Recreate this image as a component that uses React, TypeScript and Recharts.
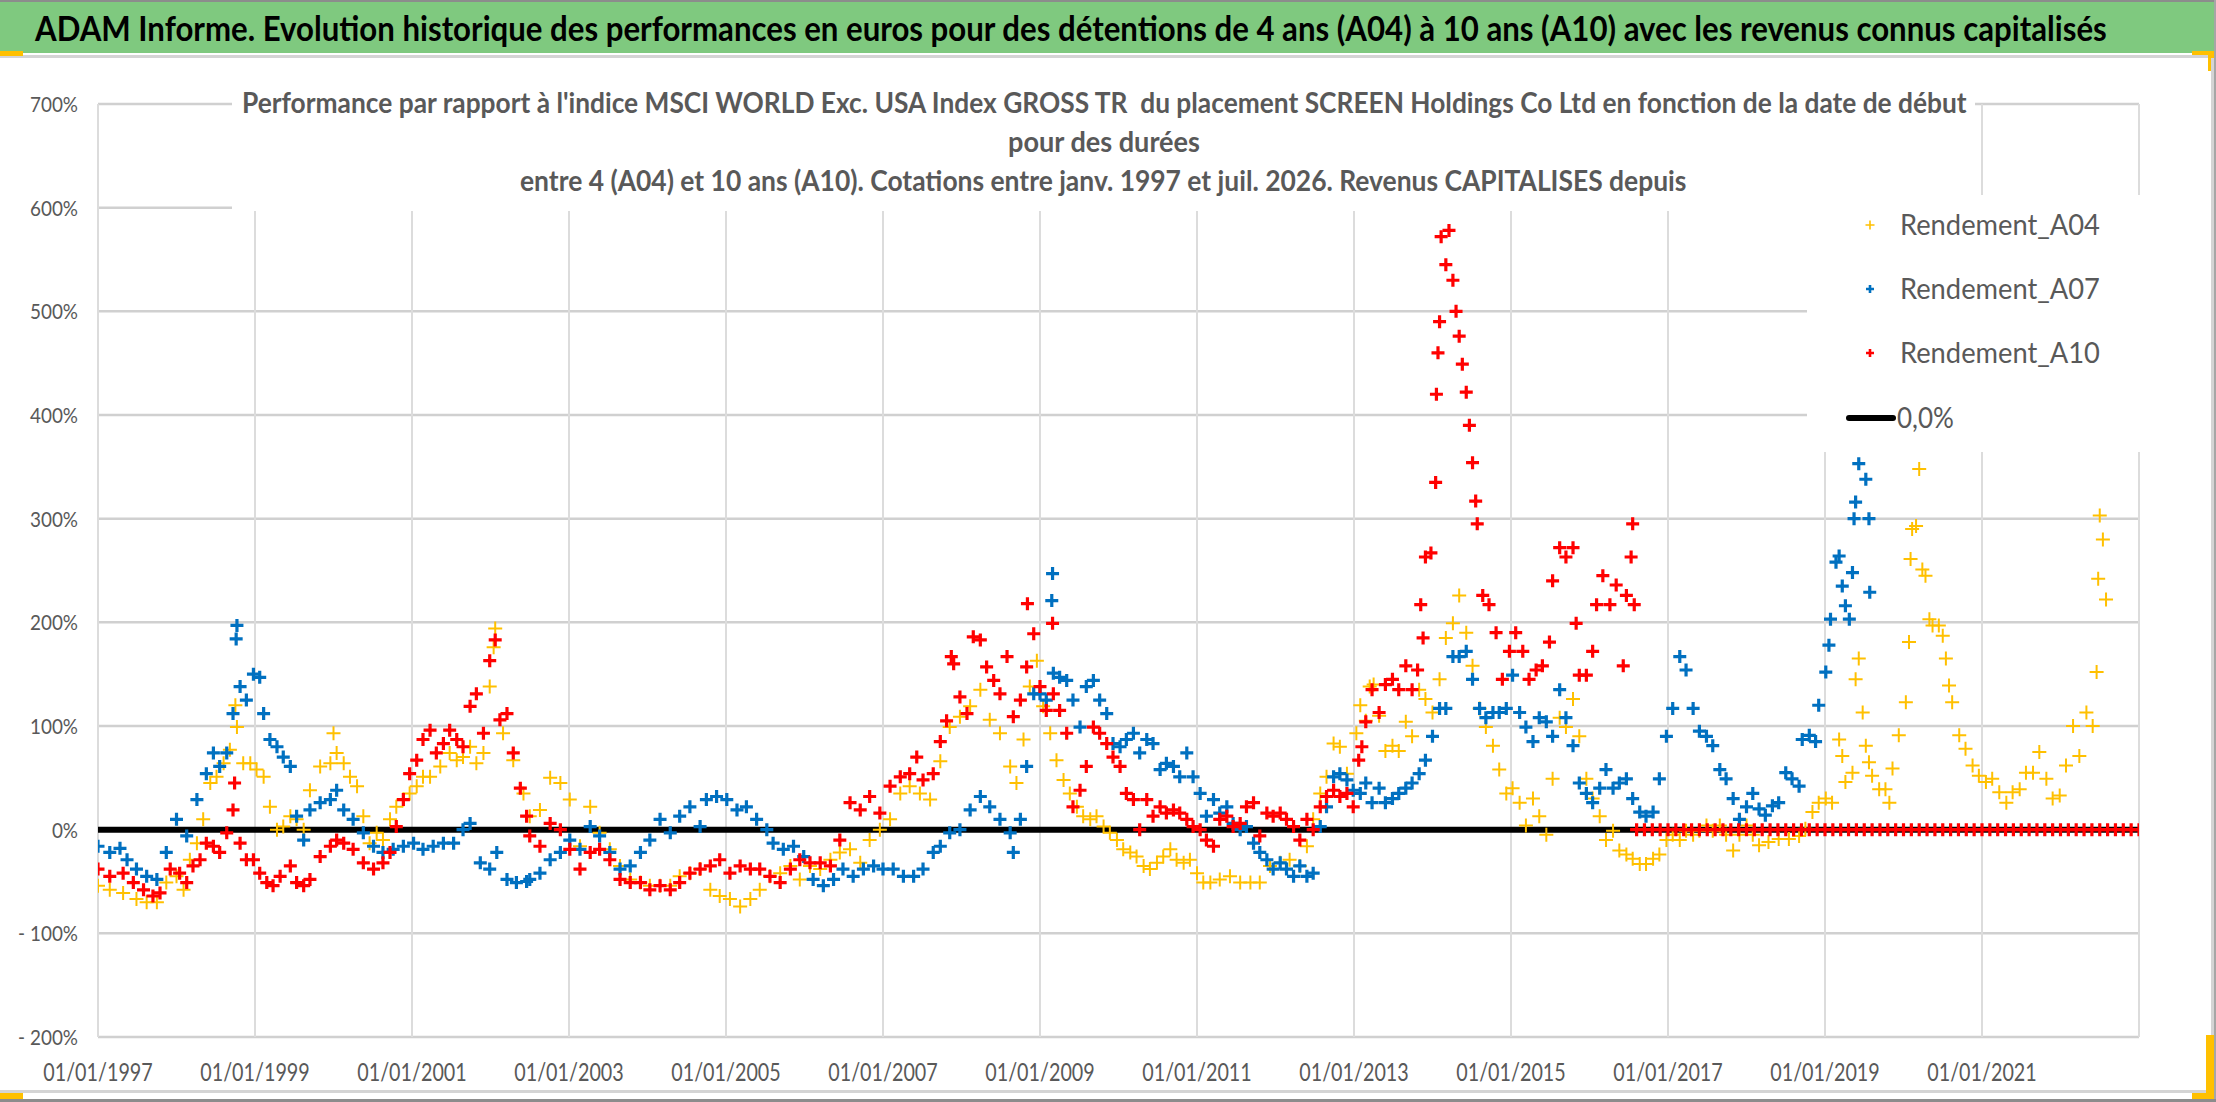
import React, { useLayoutEffect, useRef, useState } from 'react';
import { CartesianGrid, Legend, Scatter, ScatterChart, XAxis, YAxis } from 'recharts';

// t = years since 01/01/1997, v = performance in %
type Pt = [number, number];

const X_TICKS = [0, 2, 4, 6, 8, 10, 12, 14, 16, 18, 20, 22, 24];
const X_TICK_LABELS = [
  '01/01/1997', '01/01/1999', '01/01/2001', '01/01/2003', '01/01/2005', '01/01/2007', '01/01/2009',
  '01/01/2011', '01/01/2013', '01/01/2015', '01/01/2017', '01/01/2019', '01/01/2021',
];
const Y_TICKS = [-200, -100, 0, 100, 200, 300, 400, 500, 600, 700];
const Y_TICK_LABELS = ['- 200%', '- 100%', '0%', '100%', '200%', '300%', '400%', '500%', '600%', '700%'];

const A04: Pt[] = [
  [0.00, -54], [0.15, -58], [0.32, -61], [0.49, -67], [0.62, -70], [0.75, -70], [0.87, -51], [1.00, -45],
  [1.09, -58], [1.17, -29], [1.26, -13], [1.34, 10], [1.43, 45], [1.51, 51], [1.60, 64], [1.68, 77],
  [1.75, 120], [1.77, 99], [1.85, 64], [1.94, 64], [2.02, 58], [2.11, 51], [2.19, 22], [2.28, 0],
  [2.36, 3], [2.45, 13], [2.53, 10], [2.62, 0], [2.70, 38], [2.83, 61], [2.96, 64], [3.00, 93],
  [3.04, 74], [3.13, 64], [3.21, 51], [3.30, 42], [3.38, 13], [3.46, -13], [3.55, -3], [3.63, -10],
  [3.72, 10], [3.80, 22], [3.89, 29], [3.97, 35], [4.06, 42], [4.14, 51], [4.23, 51], [4.36, 61],
  [4.48, 74], [4.57, 67], [4.65, 70], [4.74, 80], [4.82, 64], [4.91, 74], [4.99, 138], [5.04, 176],
  [5.06, 194], [5.16, 93], [5.29, 67], [5.42, 35],
  [5.50, 13], [5.63, 19], [5.76, 50], [5.89, 45], [6.01, 29], [6.14, -16], [6.27, 22], [6.39, -3],
  [6.52, -19], [6.65, -35], [6.78, -48], [6.91, -51], [7.03, -54], [7.16, -54], [7.29, -54], [7.41, -45],
  [7.54, -42], [7.67, -38], [7.80, -58], [7.92, -64], [8.05, -67], [8.18, -74], [8.31, -67], [8.43, -58],
  [8.56, -45], [8.69, -42], [8.82, -35], [8.94, -48], [9.07, -35], [9.20, -38], [9.33, -29], [9.45, -22],
  [9.58, -19], [9.71, -32], [9.83, -10], [9.96, 0], [10.09, 10], [10.22, 35], [10.34, 42], [10.47, 35],
  [10.60, 29],
  [10.73, 66], [10.85, 99], [10.98, 109], [11.11, 119], [11.24, 135], [11.36, 106], [11.49, 93], [11.62, 61],
  [11.70, 45], [11.79, 87], [11.87, 138], [11.96, 163], [12.04, 119], [12.13, 93], [12.21, 67], [12.30, 48],
  [12.38, 35], [12.47, 22], [12.55, 13], [12.64, 10], [12.72, 13], [12.81, 3], [12.89, -3], [12.98, -10],
  [13.06, -19], [13.15, -22], [13.23, -26], [13.32, -35], [13.40, -38], [13.49, -32], [13.57, -26], [13.66, -19],
  [13.74, -29], [13.83, -32], [13.91, -29], [14.00, -42], [14.08, -51], [14.17, -51], [14.29, -48], [14.42, -45],
  [14.55, -51], [14.68, -51], [14.80, -51], [14.93, -35], [15.06, -32], [15.18, -29], [15.31, -35], [15.40, -16],
  [15.48, 10], [15.57, 35], [15.65, 51], [15.74, 83], [15.82, 80], [15.91, 54], [16.03, 93],
  [16.08, 120], [16.15, 105], [16.20, 138], [16.25, 140], [16.32, 110], [16.40, 76], [16.49, 81], [16.57, 76],
  [16.66, 104], [16.74, 90], [16.83, 135], [16.91, 126], [17.00, 113], [17.09, 145], [17.17, 185], [17.26, 199],
  [17.34, 226], [17.43, 190], [17.51, 158], [17.60, 117], [17.68, 99], [17.77, 81], [17.85, 58], [17.94, 35],
  [18.02, 40], [18.11, 26], [18.19, 4], [18.28, 30], [18.36, 13], [18.45, -5], [18.53, 49], [18.62, 108],
  [18.70, 99], [18.79, 126], [18.87, 90], [18.96, 49], [19.04, 30], [19.13, 13], [19.21, -10], [19.30, -1],
  [19.38, -20], [19.47, -24], [19.55, -28], [19.64, -33], [19.72, -33], [19.81, -28], [19.89, -24], [19.98, -10],
  [20.06, -5], [20.15, -10], [20.23, -1], [20.32, -5], [20.40, -1], [20.49, 4], [20.57, -1], [20.66, 4],
  [20.74, -5], [20.83, -20], [20.91, -5], [21.00, 4], [21.08, -5],
  [21.16, -15], [21.28, -12], [21.41, -9], [21.54, -9], [21.67, -6], [21.75, 1], [21.84, 17], [21.92, 26],
  [22.01, 30], [22.09, 26], [22.18, 87], [22.22, 71], [22.26, 46], [22.35, 55], [22.39, 145], [22.43, 165],
  [22.48, 113], [22.52, 81], [22.56, 65], [22.60, 52], [22.69, 39], [22.77, 39], [22.82, 26], [22.86, 59],
  [22.94, 91], [23.03, 123], [23.07, 181], [23.09, 261], [23.11, 290], [23.16, 293], [23.20, 348], [23.24, 251],
  [23.28, 245], [23.33, 203], [23.37, 197], [23.45, 197], [23.50, 187], [23.54, 165], [23.58, 139], [23.62, 123],
  [23.71, 91], [23.79, 78], [23.88, 62], [23.96, 52], [24.05, 46], [24.13, 49], [24.22, 36], [24.31, 26],
  [24.39, 36], [24.48, 39], [24.56, 55], [24.65, 55], [24.73, 75], [24.82, 49], [24.90, 30], [24.99, 33],
  [25.07, 62], [25.16, 100], [25.24, 71], [25.33, 113], [25.41, 100], [25.46, 152], [25.48, 242], [25.50, 303],
  [25.54, 280], [25.58, 222],
];

const A07: Pt[] = [
  [0.00, -16], [0.15, -22], [0.28, -18], [0.37, -29], [0.49, -38], [0.62, -45], [0.75, -48], [0.87, -22],
  [1.00, 10], [1.13, -6], [1.26, 29], [1.38, 54], [1.47, 74], [1.55, 61], [1.64, 74], [1.72, 112],
  [1.76, 184], [1.77, 197], [1.81, 138], [1.89, 125], [1.98, 150], [2.06, 147], [2.11, 112], [2.19, 87],
  [2.28, 80], [2.36, 70], [2.45, 61], [2.53, 13], [2.62, -10], [2.70, 19], [2.83, 26], [2.96, 29],
  [3.04, 38], [3.13, 19], [3.25, 10], [3.38, -3], [3.51, -16], [3.63, -22], [3.76, -19], [3.89, -16],
  [4.02, -13], [4.14, -19], [4.27, -16], [4.40, -13], [4.53, -13], [4.65, 0], [4.74, 6], [4.87, -32],
  [4.99, -38], [5.08, -22], [5.21, -48], [5.33, -51],
  [5.46, -50], [5.50, -48], [5.63, -42], [5.76, -29], [5.89, -22], [6.01, -10], [6.14, -19], [6.27, 3],
  [6.39, -6], [6.52, -22], [6.65, -38], [6.78, -35], [6.91, -22], [7.03, -10], [7.16, 10], [7.29, -3],
  [7.41, 13], [7.54, 22], [7.67, 3], [7.75, 29], [7.88, 32], [8.01, 29], [8.14, 19], [8.26, 22],
  [8.39, 10], [8.52, 0], [8.60, -13], [8.73, -19], [8.86, -16], [8.99, -26], [9.11, -48], [9.24, -54],
  [9.37, -48], [9.49, -38], [9.62, -45], [9.75, -38], [9.88, -35], [10.00, -38], [10.13, -38], [10.26, -45],
  [10.39, -45], [10.51, -38], [10.64, -22],
  [10.73, -16], [10.85, -3], [10.98, 0], [11.11, 19], [11.24, 32], [11.36, 22], [11.49, 10], [11.62, -3],
  [11.66, -22], [11.75, 10], [11.83, 61], [11.92, 131], [12.00, 131], [12.08, 125], [12.15, 221], [12.16, 247],
  [12.17, 151], [12.25, 147], [12.34, 144], [12.42, 125], [12.51, 99], [12.59, 138], [12.68, 144], [12.76, 125],
  [12.85, 112], [12.93, 83], [13.02, 80], [13.10, 87], [13.19, 93], [13.27, 74], [13.36, 87], [13.44, 83],
  [13.53, 58], [13.61, 64], [13.70, 61], [13.78, 51], [13.87, 74], [13.95, 51], [14.04, 35], [14.12, 13],
  [14.21, 29], [14.29, 16], [14.38, 22], [14.46, 6], [14.55, 0], [14.63, 3], [14.72, -13], [14.80, -22],
  [14.89, -29], [14.97, -38], [15.06, -32], [15.14, -38], [15.23, -45], [15.31, -35], [15.40, -45], [15.48, -42],
  [15.57, 3], [15.65, 22], [15.74, 51], [15.82, 54], [15.91, 48], [15.99, 38],
  [16.08, 35], [16.15, 45], [16.23, 26], [16.32, 40], [16.40, 26], [16.49, 30], [16.57, 35], [16.66, 40],
  [16.74, 45], [16.83, 54], [16.91, 67], [17.00, 90], [17.09, 117], [17.17, 117], [17.26, 167], [17.34, 167],
  [17.43, 172], [17.51, 145], [17.60, 117], [17.68, 108], [17.77, 113], [17.85, 113], [17.94, 117], [18.02, 149],
  [18.11, 113], [18.19, 99], [18.28, 85], [18.36, 108], [18.45, 104], [18.53, 90], [18.62, 135], [18.70, 108],
  [18.79, 81], [18.87, 45], [18.96, 35], [19.04, 26], [19.13, 40], [19.21, 58], [19.30, 40], [19.38, 45],
  [19.47, 49], [19.55, 30], [19.64, 17], [19.72, 13], [19.81, 17], [19.89, 49], [19.98, 90], [20.06, 117],
  [20.15, 167], [20.23, 154], [20.32, 117], [20.40, 95], [20.49, 90], [20.57, 81], [20.66, 58], [20.74, 49],
  [20.83, 30], [20.91, 10], [21.00, 22], [21.08, 35],
  [21.16, 20], [21.24, 14], [21.33, 23], [21.41, 26], [21.50, 55], [21.58, 49], [21.67, 42], [21.71, 87],
  [21.80, 91], [21.88, 85], [21.92, 120], [22.01, 152], [22.05, 178], [22.07, 203], [22.14, 258], [22.18, 264],
  [22.22, 235], [22.26, 216], [22.31, 203], [22.35, 248], [22.37, 300], [22.39, 316], [22.43, 353], [22.52, 338],
  [22.56, 300], [22.57, 229],
];

const A10: Pt[] = [
  [0.00, -38], [0.15, -45], [0.32, -42], [0.45, -51], [0.58, -58], [0.70, -64], [0.79, -61], [0.92, -38],
  [1.04, -42], [1.13, -51], [1.21, -35], [1.30, -29], [1.38, -13], [1.47, -16], [1.55, -22], [1.64, -3],
  [1.72, 19], [1.74, 45], [1.81, -13], [1.89, -29], [1.98, -29], [2.06, -42], [2.15, -51], [2.23, -54],
  [2.32, -45], [2.45, -35], [2.53, -51], [2.62, -54], [2.70, -48], [2.83, -26], [2.96, -16], [3.04, -10],
  [3.13, -13], [3.25, -19], [3.38, -32], [3.51, -38], [3.63, -32], [3.72, -22], [3.80, 3], [3.89, 29],
  [3.97, 54], [4.06, 67], [4.14, 87], [4.23, 96], [4.31, 74], [4.40, 83], [4.48, 96], [4.57, 87],
  [4.65, 80], [4.74, 119], [4.82, 131], [4.91, 93], [4.99, 163], [5.06, 183], [5.12, 106], [5.21, 112],
  [5.29, 74], [5.38, 40], [5.46, 13],
  [5.50, -6], [5.63, -16], [5.76, 6], [5.89, 0], [6.01, -19], [6.14, -38], [6.27, -22], [6.39, -19],
  [6.52, -29], [6.65, -48], [6.78, -51], [6.91, -51], [7.03, -58], [7.16, -54], [7.29, -58], [7.41, -51],
  [7.54, -42], [7.67, -38], [7.80, -35], [7.92, -29], [8.05, -42], [8.18, -35], [8.31, -38], [8.43, -38],
  [8.56, -45], [8.69, -51], [8.82, -38], [8.94, -29], [9.07, -32], [9.20, -32], [9.33, -35], [9.45, -10],
  [9.58, 26], [9.71, 19], [9.83, 32], [9.96, 16], [10.09, 42], [10.22, 51], [10.34, 54], [10.43, 70],
  [10.51, 48], [10.64, 54],
  [10.73, 85], [10.81, 105], [10.87, 167], [10.90, 160], [10.98, 128], [11.07, 112], [11.15, 186], [11.24, 183],
  [11.32, 157], [11.41, 144], [11.49, 131], [11.58, 167], [11.66, 109], [11.75, 125], [11.83, 157], [11.84, 218],
  [11.92, 189], [12.00, 138], [12.08, 115], [12.16, 199], [12.17, 131], [12.25, 115], [12.34, 93], [12.42, 22],
  [12.51, 38], [12.59, 61], [12.68, 99], [12.76, 93], [12.85, 83], [12.93, 70], [13.02, 61], [13.10, 35],
  [13.19, 29], [13.27, 0], [13.36, 29], [13.44, 13], [13.53, 22], [13.61, 16], [13.70, 19], [13.78, 16],
  [13.87, 10], [13.95, 3], [14.04, 0], [14.12, -10], [14.21, -16], [14.29, 10], [14.38, 13], [14.46, 3],
  [14.55, 6], [14.63, 22], [14.72, 26], [14.80, -6], [14.89, 16], [14.97, 13], [15.06, 16], [15.14, 10],
  [15.23, 3], [15.31, -10], [15.40, 10], [15.48, 0], [15.57, 22], [15.65, 32], [15.74, 38], [15.82, 32],
  [15.91, 35], [15.99, 22],
  [16.06, 67], [16.10, 80], [16.15, 104], [16.23, 135], [16.32, 113], [16.40, 140], [16.49, 145], [16.57, 135],
  [16.66, 158], [16.74, 135], [16.81, 154], [16.85, 217], [16.88, 185], [16.91, 263], [16.98, 267], [17.04, 335],
  [17.05, 420], [17.07, 460], [17.09, 490], [17.11, 572], [17.17, 545], [17.21, 578], [17.26, 530], [17.30, 500],
  [17.34, 476], [17.38, 449], [17.43, 422], [17.47, 390], [17.51, 354], [17.55, 317], [17.57, 295], [17.64, 226],
  [17.72, 217], [17.81, 190], [17.89, 145], [17.98, 172], [18.06, 190], [18.15, 172], [18.23, 145], [18.32, 154],
  [18.40, 158], [18.49, 181], [18.53, 240], [18.62, 272], [18.70, 263], [18.79, 272], [18.83, 199], [18.87, 149],
  [18.96, 149], [19.04, 172], [19.09, 217], [19.17, 245], [19.26, 217], [19.34, 236], [19.43, 158], [19.47, 226],
  [19.53, 263], [19.55, 295], [19.57, 217],
];

// A10 has no value after mid-2016: plotted at 0
const A10_TAIL: Pt[] = [
  [19.6, 0], [19.7, 0], [19.8, 0], [19.9, 0], [20.0, 0], [20.1, 0], [20.2, 0], [20.3, 0], [20.4, 0], [20.5, 0],
  [20.6, 0], [20.7, 0], [20.8, 0], [20.9, 0], [21.0, 0], [21.1, 0], [21.2, 0], [21.3, 0], [21.4, 0], [21.5, 0],
  [21.6, 0], [21.7, 0], [21.8, 0], [21.9, 0], [22.0, 0], [22.1, 0], [22.2, 0], [22.3, 0], [22.4, 0], [22.5, 0],
  [22.6, 0], [22.7, 0], [22.8, 0], [22.9, 0], [23.0, 0], [23.1, 0], [23.2, 0], [23.3, 0], [23.4, 0], [23.5, 0],
  [23.6, 0], [23.7, 0], [23.8, 0], [23.9, 0], [24.0, 0], [24.1, 0], [24.2, 0], [24.3, 0], [24.4, 0], [24.5, 0],
  [24.6, 0], [24.7, 0], [24.8, 0], [24.9, 0], [25.0, 0], [25.1, 0], [25.2, 0], [25.3, 0], [25.4, 0], [25.5, 0],
  [25.6, 0], [25.7, 0], [25.8, 0], [25.9, 0], [26.0, 0],
];

const ZERO_LINE: Pt[] = [[0, 0], [26, 0]];

const GREY = '#595959';
const YELLOW = '#FFC000';
const BLUE = '#0070C0';
const RED = '#FF0000';

const toRows = (pts: Pt[]) => pts.map(([t, v]) => ({ t, v }));

const plusPath = (cx: number, cy: number, half: number) =>
  `M${cx - half} ${cy}H${cx + half}M${cx} ${cy - half}V${cy + half}`;

const plusShape = (color: string, half: number, width: number) => (props: any) => {
  const { cx, cy } = props;
  if (typeof cx !== 'number' || typeof cy !== 'number') return <g />;
  return <path d={plusPath(cx, cy, half)} stroke={color} strokeWidth={width} fill="none" />;
};

// text squeezed horizontally to a measured width (the original uses a narrow font)
function FitText({ x, y, width, anchor = 'start', children, ...rest }: any) {
  const ref = useRef<SVGTextElement>(null);
  const [k, setK] = useState(1);
  useLayoutEffect(() => {
    const el = ref.current;
    if (!el) return;
    const w = el.getComputedTextLength();
    if (w > 0) setK(width / w);
  }, [width, children]);
  return (
    <text ref={ref} x={0} y={0} textAnchor={anchor} transform={`translate(${x},${y}) scale(${k},1)`} {...rest}>
      {children}
    </text>
  );
}

const MARKERS: Record<string, { half: number; width: number; color: string }> = {
  Rendement_A04: { half: 4.5, width: 1.6, color: YELLOW },
  Rendement_A07: { half: 4, width: 2.6, color: BLUE },
  Rendement_A10: { half: 4, width: 2.6, color: RED },
};
const LEGEND_ORDER = ['Rendement_A04', 'Rendement_A07', 'Rendement_A10', '0,0%'];

const XTick = (props: any) => {
  const { x, y, payload } = props;
  const label = X_TICK_LABELS[X_TICKS.indexOf(payload.value)];
  return (
    <g transform={`translate(${x},${y})`}>
      <text x={0} y={44} textAnchor="middle" fontFamily="Lato" fontSize={25} fill={GREY} transform="scale(0.79,1)">
        {label}
      </text>
    </g>
  );
};

const YTick = (props: any) => {
  const { x, y, payload } = props;
  const label = Y_TICK_LABELS[Y_TICKS.indexOf(payload.value)];
  return (
    <g transform={`translate(${x},${y})`}>
      <text x={0} y={8} textAnchor="end" fontFamily="Lato" fontSize={22} fill={GREY} transform="scale(0.86,1)">
        {label}
      </text>
    </g>
  );
};

const renderLegend = (props: any) => {
  const entries: any[] = props.payload ?? [];
  const rows = [30, 94, 158, 223];
  return (
    <svg width={334} height={257}>
      {LEGEND_ORDER.map((name, i) => {
        const y = rows[i];
        const m = MARKERS[name];
        const found = entries.find((e) => e.value === name);
        const color = found?.color ?? (m ? m.color : '#000');
        return (
          <g key={name}>
            {m ? (
              <path d={plusPath(63, y, m.half)} stroke={color} strokeWidth={m.width} fill="none" />
            ) : (
              <line x1={42} x2={86} y1={y} y2={y} stroke="#000" strokeWidth={6} strokeLinecap="round" />
            )}
            <FitText x={m ? 93 : 90} y={y + 10} width={m ? 200 : 57} fontFamily="Lato" fontSize={28} fill={GREY}>
              {name}
            </FitText>
          </g>
        );
      })}
    </svg>
  );
};

export default function App() {
  return (
    <div style={{ position: 'relative', width: 2216, height: 1102, background: '#fff', overflow: 'hidden' }}>
      <style>{'body{margin:0}'}</style>
      <ScatterChart width={2216} height={1102} margin={{ top: 104, right: 77, bottom: 0, left: 0 }}>
        <CartesianGrid stroke="#D0D0D0" strokeWidth={2.5} vertical={false} />
        <CartesianGrid stroke="#DCDCDC" strokeWidth={2} horizontal={false} />
        <XAxis
          type="number"
          dataKey="t"
          domain={[0, 26]}
          ticks={X_TICKS}
          interval={0}
          allowDataOverflow
          axisLine={false}
          tickLine={false}
          tickSize={0}
          tickMargin={0}
          height={65}
          tick={<XTick />}
        />
        <YAxis
          type="number"
          dataKey="v"
          domain={[-200, 700]}
          ticks={Y_TICKS}
          interval={0}
          allowDataOverflow
          axisLine={false}
          tickLine={false}
          tickSize={0}
          tickMargin={20}
          width={98}
          tick={<YTick />}
        />
        <Legend
          layout="horizontal"
          verticalAlign="middle"
          align="center"
          content={renderLegend}
          wrapperStyle={{ left: 1807, top: 195, width: 334, height: 257, background: '#fff' }}
        />
        <Scatter
          name="0,0%"
          data={toRows(ZERO_LINE)}
          fill="#000"
          line={{ stroke: '#000', strokeWidth: 6, strokeLinecap: 'round' }}
          shape={() => <g />}
          isAnimationActive={false}
        />
        <Scatter
          name="Rendement_A04"
          data={toRows(A04)}
          fill={YELLOW}
          shape={plusShape(YELLOW, 7, 2)}
          isAnimationActive={false}
        />
        <Scatter
          name="Rendement_A07"
          data={toRows(A07)}
          fill={BLUE}
          shape={plusShape(BLUE, 6.5, 3.2)}
          isAnimationActive={false}
        />
        <Scatter
          name="Rendement_A10"
          data={toRows([...A10, ...A10_TAIL])}
          fill={RED}
          shape={plusShape(RED, 6.5, 3.2)}
          isAnimationActive={false}
        />
      </ScatterChart>

      <svg
        width={2216}
        height={1102}
        style={{ position: 'absolute', left: 0, top: 0, pointerEvents: 'none' }}
      >
        <rect x={0} y={0} width={2216} height={53} fill="#7FC97F" />
        <rect x={0} y={0} width={2216} height={2} fill="#8C8C8C" />
        <FitText x={35} y={41} width={2073} fontFamily="Lato" fontWeight={700} fontSize={34} fill="#000">
          ADAM Informe. Evolution historique des performances en euros pour des détentions de 4 ans (A04) à 10 ans (A10) avec les revenus connus capitalisés
        </FitText>
        <rect x={0} y={55} width={2213} height={3} fill="#D4D4D4" />
        <rect x={0} y={51} width={23} height={5} fill={YELLOW} />
        <rect x={2192} y={51} width={22} height={4} fill={YELLOW} />
        <rect x={2208} y={51} width={6} height={20} fill={YELLOW} />
        <rect x={2211} y={58} width={3} height={1034} fill="#D4D4D4" />
        <rect x={2214} y={0} width={2} height={1102} fill="#A6A6A6" />
        <rect x={0} y={1090} width={2213} height={3} fill="#D4D4D4" />
        <rect x={0} y={1093} width={23} height={6} fill={YELLOW} />
        <rect x={2206} y={1035} width={8} height={64} fill={YELLOW} />
        <rect x={2192} y={1093} width={22} height={6} fill={YELLOW} />
        <rect x={0} y={1099} width={2216} height={3} fill="#8C8C8C" />

        <rect x={232} y={62} width={1743} height={149} fill="#fff" />
        <g fontFamily="Lato" fontWeight={700} fontSize={29} fill={GREY}>
          <FitText x={242} y={113} width={1725} style={{ whiteSpace: 'pre' }}>
            Performance par rapport à l'indice MSCI WORLD Exc. USA Index GROSS TR  du placement SCREEN Holdings Co Ltd en fonction de la date de début
          </FitText>
          <FitText x={1104} y={152} width={192} anchor="middle">
            pour des durées
          </FitText>
          <FitText x={520} y={191} width={1167}>
            entre 4 (A04) et 10 ans (A10). Cotations entre janv. 1997 et juil. 2026. Revenus CAPITALISES depuis
          </FitText>
        </g>
      </svg>
    </div>
  );
}
